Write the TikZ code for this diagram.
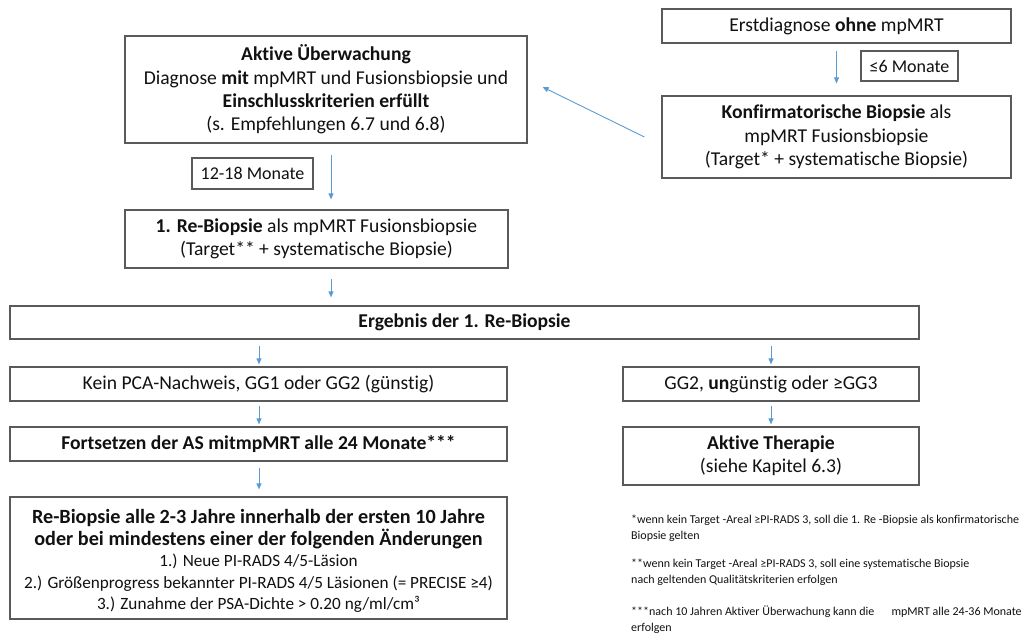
\documentclass[tikz,border=0pt]{standalone}
\usepackage{fontspec}
\setmainfont{Carlito}[Ligatures=NoCommon]
\usetikzlibrary{arrows.meta}
\definecolor{boxgray}{HTML}{5A5A5A}
\definecolor{arrblue}{HTML}{5B9BD5}
\definecolor{txt}{HTML}{111111}
\tikzset{
  box/.style={draw=boxgray, line width=1.2pt, fill=white, align=center, inner sep=2pt,
    text=txt, font=\fontsize{19.6}{23.3}\selectfont},
  smallbox/.style={box, font=\fontsize{18}{22}\selectfont},
  arr/.style={draw=arrblue, line width=0.9pt, -{Triangle[length=6pt,width=5pt]}},
  note/.style={align=left, anchor=north west, inner sep=0pt, text=txt,
    font=\fontsize{12}{16}\selectfont}
}
\begin{document}
\begin{tikzpicture}[x=1pt,y=-1pt]
\useasboundingbox (0,0) rectangle (1031,636);

\node[box, minimum width=402pt, minimum height=107pt] (aktiv) at (326,89.5)
  {\textbf{Aktive Überwachung}\\Diagnose \textbf{mit} mpMRT und Fusionsbiopsie und\\\textbf{Einschlusskriterien erfüllt}\\(s. Empfehlungen 6.7 und 6.8)};
\node[box, minimum width=349pt, minimum height=34pt] (erst) at (836.5,26)
  {Erstdiagnose \textbf{ohne} mpMRT};
\node[smallbox, minimum width=97pt, minimum height=30pt] (sechs) at (909.5,66)
  {≤6 Monate};
\node[box, minimum width=349pt, minimum height=82pt] (konf) at (836.5,137)
  {\textbf{Konfirmatorische Biopsie} als\\mpMRT Fusionsbiopsie\\(Target* + systematische Biopsie)};
\node[smallbox, minimum width=121pt, minimum height=31pt] (zwoelf) at (252.5,173.5)
  {12-18 Monate};
\node[box, minimum width=383pt, minimum height=58pt] (rebio) at (316.5,239)
  {\textbf{1. Re-Biopsie} als mpMRT Fusionsbiopsie\\(Target** + systematische Biopsie)};
\node[box, minimum width=909pt, minimum height=33pt] (ergeb) at (464.5,322.5)
  {\textbf{Ergebnis der 1. Re-Biopsie}};
\node[box, minimum width=497pt, minimum height=34pt] (kein) at (258.5,384)
  {Kein PCA-Nachweis, GG1 oder GG2 (günstig)};
\node[box, minimum width=296pt, minimum height=34pt] (gg) at (771,384)
  {GG2, \textbf{un}günstig oder ≥GG3};
\node[box, minimum width=497pt, minimum height=34pt] (fort) at (258.5,444)
  {\textbf{Fortsetzen der AS mitmpMRT alle 24 Monate***}};
\node[box, minimum width=296pt, minimum height=58pt] (ther) at (771,456)
  {\textbf{Aktive Therapie}\\(siehe Kapitel 6.3)};
\node[box, minimum width=497pt, minimum height=122pt, font=\fontsize{20.2}{21.5}\selectfont] (realle) at (258.5,558)
  {\rule{0pt}{20pt}\textbf{Re-Biopsie alle 2-3 Jahre innerhalb der ersten 10 Jahre}\\
   \textbf{oder bei mindestens einer der folgenden Änderungen}\\
   {\fontsize{17.2}{21.5}\selectfont 1.) Neue PI-RADS 4/5-Läsion}\\
   {\fontsize{17.2}{21.5}\selectfont 2.) Größenprogress bekannter PI-RADS 4/5 Läsionen (= PRECISE ≥4)}\\
   {\fontsize{17.2}{21.5}\selectfont 3.) Zunahme der PSA-Dichte > 0.20 ng/ml/cm³}};

% arrows
\draw[arr] ([yshift=-7pt]erst.south) -- ([yshift=12pt]konf.north);
\draw[arr] ([xshift=-17pt]konf.west) -- ([xshift=15pt,yshift=2.5pt]aktiv.east);
\draw[arr] ([xshift=5pt,yshift=-11pt]aktiv.south) -- ([xshift=14.5pt,yshift=10pt]rebio.north);
\draw[arr] ([xshift=14.5pt,yshift=-10pt]rebio.south) -- ([xshift=-133.5pt,yshift=8pt]ergeb.north);
\draw[arr] ([xshift=-205.5pt,yshift=-6pt]ergeb.south) -- ([xshift=0.5pt,yshift=2pt]kein.north);
\draw[arr] ([xshift=306.5pt,yshift=-6pt]ergeb.south) -- ([yshift=2pt]gg.north);
\draw[arr] ([xshift=0.5pt,yshift=-4pt]kein.south) -- ([xshift=0.5pt,yshift=2pt]fort.north);
\draw[arr] ([yshift=-4pt]gg.south) -- ([yshift=2pt]ther.north);
\draw[arr] ([xshift=0.5pt,yshift=-6pt]fort.south) -- ([xshift=0.5pt,yshift=7pt]realle.north);

% footnotes
\node[note] (fn1) at (631,515)
  {*wenn kein Target -Areal ≥PI-RADS 3, soll die 1. Re -Biopsie als konfirmatorische\\Biopsie gelten};
\node[note] (fn2) at (631,559)
  {**wenn kein Target -Areal ≥PI-RADS 3, soll eine systematische Biopsie\\nach geltenden Qualitätskriterien erfolgen};
\node[note] (fn3) at (631,606)
  {***nach 10 Jahren Aktiver Überwachung kann die \hspace{1.2em}mpMRT alle 24-36 Monate\\erfolgen};
\end{tikzpicture}
\end{document}
